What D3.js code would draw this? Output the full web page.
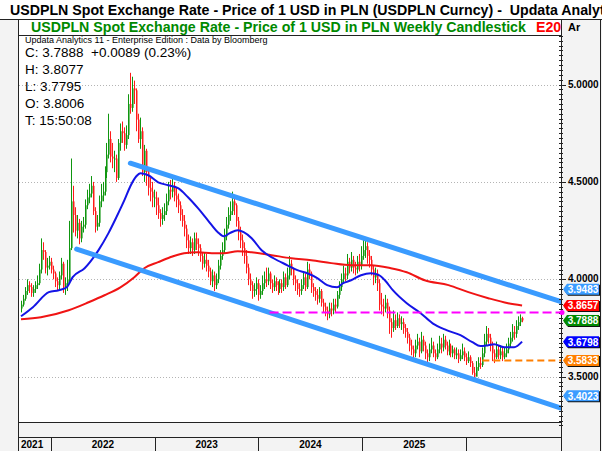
<!DOCTYPE html>
<html>
<head>
<meta charset="utf-8">
<script src="https://cdn.jsdelivr.net/npm/d3@7"></script>
<style>
  body { margin: 0; background: #fff; }
  svg { display: block; font-family: Arial, "Liberation Sans", sans-serif; }
</style>
</head>
<body>
<div id="chart"></div>
<script>
// weekly bars, first bar ending this friday
const firstWeek = '2021-09-17';

const opens = [
  3.85, 3.87, 3.90, 3.94, 3.97, 3.96, 3.93, 3.95, 3.97, 3.98,
  4.05, 4.15, 4.14, 4.06, 4.07, 4.09, 4.05, 4.03, 3.99, 3.97,
  4.02, 4.08, 3.96, 3.98, 4.00, 4.16, 4.40, 4.33, 4.25, 4.29,
  4.21, 4.27, 4.28, 4.38, 4.42, 4.44, 4.48, 4.35, 4.27, 4.29,
  4.40, 4.43, 4.45, 4.55, 4.64, 4.72, 4.63, 4.62, 4.62, 4.52,
  4.70, 4.76, 4.75, 4.69, 4.74, 4.90, 4.88, 4.98, 4.97, 4.82,
  4.72, 4.76, 4.55, 4.66, 4.55, 4.47, 4.45, 4.42, 4.42, 4.38,
  4.34, 4.31, 4.33, 4.35, 4.40, 4.46, 4.45, 4.48, 4.43, 4.41,
  4.38, 4.33, 4.30, 4.26, 4.20, 4.16, 4.19, 4.15, 4.21, 4.18,
  4.16, 4.12, 4.08, 4.10, 4.07, 4.04, 3.99, 4.02, 3.97, 4.00,
  4.07, 4.12, 4.15, 4.22, 4.28, 4.33, 4.35, 4.40, 4.38, 4.30,
  4.24, 4.20, 4.16, 4.12, 4.06, 4.00, 3.97, 3.94, 3.95, 3.98,
  3.92, 3.94, 3.98, 4.00, 3.99, 4.03, 3.98, 3.96, 3.99, 3.97,
  3.95, 3.98, 3.96, 4.01, 3.97, 4.02, 4.08, 4.05, 4.00, 3.98,
  3.95, 3.94, 3.97, 4.01, 3.96, 4.05, 4.03, 3.96, 3.94, 3.92,
  3.90, 3.94, 3.88, 3.86, 3.84, 3.82, 3.85, 3.84, 3.87, 3.86,
  3.92, 3.96, 4.00, 4.03, 4.02, 4.09, 4.06, 4.10, 4.06, 4.05,
  4.09, 4.07, 4.12, 4.15, 4.17, 4.12, 4.10, 4.05, 4.01, 4.03,
  3.98, 3.87, 3.86, 3.85, 3.88, 3.84, 3.78, 3.75, 3.79, 3.76,
  3.80, 3.77, 3.78, 3.75, 3.73, 3.70, 3.66, 3.64, 3.62, 3.66,
  3.68, 3.63, 3.69, 3.66, 3.62, 3.60, 3.64, 3.66, 3.62, 3.60,
  3.64, 3.67, 3.65, 3.69, 3.66, 3.63, 3.66, 3.62, 3.64, 3.61,
  3.62, 3.59, 3.61, 3.63, 3.60, 3.58, 3.60, 3.57, 3.52, 3.50,
  3.55, 3.57, 3.56, 3.62, 3.68, 3.72, 3.70, 3.66, 3.62, 3.60,
  3.64, 3.61, 3.63, 3.60, 3.62, 3.64, 3.67, 3.70, 3.73, 3.72,
  3.76, 3.78, 3.8006
];
const highs = [
  3.89, 3.92, 3.96, 4.00, 3.99, 3.98, 3.97, 3.99, 4.02, 4.08,
  4.21, 4.19, 4.15, 4.11, 4.12, 4.11, 4.07, 4.04, 4.01, 4.04,
  4.11, 4.09, 4.01, 4.10, 4.30, 4.62, 4.48, 4.37, 4.33, 4.31,
  4.30, 4.32, 4.41, 4.46, 4.49, 4.53, 4.50, 4.37, 4.33, 4.43,
  4.49, 4.50, 4.58, 4.70, 4.85, 4.76, 4.70, 4.66, 4.64, 4.72,
  4.80, 4.81, 4.78, 4.79, 4.95, 5.06, 5.04, 5.02, 4.98, 4.85,
  4.83, 4.78, 4.69, 4.67, 4.57, 4.52, 4.50, 4.46, 4.45, 4.42,
  4.36, 4.37, 4.39, 4.44, 4.50, 4.51, 4.52, 4.50, 4.47, 4.44,
  4.40, 4.36, 4.33, 4.28, 4.23, 4.22, 4.21, 4.24, 4.24, 4.21,
  4.18, 4.14, 4.14, 4.13, 4.10, 4.06, 4.05, 4.04, 4.03, 4.10,
  4.15, 4.19, 4.26, 4.32, 4.37, 4.40, 4.45, 4.43, 4.39, 4.32,
  4.27, 4.23, 4.19, 4.15, 4.08, 4.03, 3.99, 3.98, 4.01, 4.00,
  3.97, 4.02, 4.04, 4.06, 4.06, 4.04, 4.00, 4.02, 4.01, 3.99,
  4.00, 4.00, 4.04, 4.03, 4.06, 4.12, 4.10, 4.06, 4.02, 4.00,
  3.98, 4.00, 4.04, 4.03, 4.09, 4.08, 4.04, 3.98, 3.96, 3.95,
  3.96, 3.95, 3.90, 3.88, 3.86, 3.88, 3.88, 3.90, 3.90, 3.94,
  3.99, 4.03, 4.07, 4.06, 4.13, 4.11, 4.14, 4.12, 4.09, 4.12,
  4.13, 4.17, 4.22, 4.21, 4.19, 4.15, 4.12, 4.07, 4.06, 4.05,
  4.00, 3.93, 3.90, 3.92, 3.90, 3.86, 3.80, 3.84, 3.82, 3.83,
  3.82, 3.81, 3.80, 3.77, 3.75, 3.72, 3.69, 3.66, 3.69, 3.72,
  3.70, 3.73, 3.71, 3.68, 3.64, 3.67, 3.70, 3.68, 3.64, 3.67,
  3.71, 3.70, 3.72, 3.71, 3.68, 3.69, 3.67, 3.66, 3.65, 3.65,
  3.64, 3.64, 3.67, 3.65, 3.62, 3.63, 3.61, 3.58, 3.55, 3.58,
  3.60, 3.60, 3.65, 3.72, 3.76, 3.75, 3.72, 3.68, 3.64, 3.68,
  3.66, 3.66, 3.65, 3.65, 3.67, 3.70, 3.73, 3.77, 3.76, 3.79,
  3.81, 3.82, 3.8077
];
const lows = [
  3.83, 3.86, 3.89, 3.92, 3.93, 3.91, 3.91, 3.93, 3.95, 3.97,
  4.03, 4.10, 4.03, 4.02, 4.05, 4.03, 4.00, 3.96, 3.94, 3.95,
  4.00, 3.93, 3.92, 3.94, 3.98, 4.15, 4.24, 4.22, 4.21, 4.18,
  4.19, 4.24, 4.26, 4.36, 4.39, 4.42, 4.33, 4.24, 4.25, 4.27,
  4.37, 4.40, 4.43, 4.52, 4.62, 4.60, 4.57, 4.55, 4.50, 4.51,
  4.66, 4.70, 4.66, 4.67, 4.72, 4.85, 4.86, 4.90, 4.76, 4.70,
  4.67, 4.53, 4.50, 4.48, 4.43, 4.40, 4.37, 4.37, 4.33, 4.31,
  4.27, 4.28, 4.30, 4.33, 4.38, 4.41, 4.42, 4.40, 4.37, 4.34,
  4.30, 4.27, 4.22, 4.16, 4.13, 4.13, 4.12, 4.13, 4.15, 4.12,
  4.09, 4.05, 4.06, 4.04, 4.01, 3.97, 3.96, 3.94, 3.95, 3.98,
  4.05, 4.10, 4.13, 4.20, 4.26, 4.30, 4.33, 4.33, 4.27, 4.20,
  4.16, 4.12, 4.08, 4.03, 3.97, 3.94, 3.90, 3.91, 3.92, 3.89,
  3.90, 3.92, 3.95, 3.96, 3.97, 3.95, 3.93, 3.94, 3.94, 3.92,
  3.93, 3.93, 3.94, 3.95, 3.96, 4.00, 4.02, 3.97, 3.94, 3.92,
  3.91, 3.92, 3.95, 3.94, 3.95, 4.00, 3.93, 3.91, 3.89, 3.87,
  3.88, 3.86, 3.83, 3.81, 3.79, 3.80, 3.81, 3.82, 3.83, 3.85,
  3.90, 3.94, 3.98, 3.99, 4.00, 4.03, 4.04, 4.03, 4.02, 4.03,
  4.04, 4.05, 4.10, 4.11, 4.08, 4.06, 4.02, 3.97, 3.98, 3.94,
  3.84, 3.82, 3.81, 3.83, 3.80, 3.72, 3.70, 3.73, 3.74, 3.75,
  3.75, 3.74, 3.72, 3.70, 3.67, 3.63, 3.61, 3.59, 3.60, 3.64,
  3.60, 3.62, 3.63, 3.59, 3.57, 3.58, 3.62, 3.60, 3.58, 3.59,
  3.62, 3.62, 3.63, 3.64, 3.61, 3.61, 3.60, 3.60, 3.59, 3.59,
  3.57, 3.58, 3.59, 3.58, 3.56, 3.57, 3.55, 3.51, 3.49, 3.50,
  3.53, 3.54, 3.55, 3.60, 3.66, 3.67, 3.63, 3.58, 3.57, 3.59,
  3.59, 3.59, 3.58, 3.59, 3.60, 3.62, 3.65, 3.68, 3.69, 3.70,
  3.74, 3.76, 3.7795
];
const closes = [
  3.87, 3.90, 3.94, 3.97, 3.96, 3.93, 3.95, 3.97, 3.98, 4.05,
  4.15, 4.14, 4.06, 4.07, 4.09, 4.05, 4.03, 3.99, 3.97, 4.02,
  4.08, 3.96, 3.98, 4.00, 4.16, 4.40, 4.33, 4.25, 4.29, 4.21,
  4.27, 4.28, 4.38, 4.42, 4.44, 4.48, 4.35, 4.27, 4.29, 4.40,
  4.43, 4.45, 4.55, 4.64, 4.72, 4.63, 4.62, 4.62, 4.52, 4.70,
  4.76, 4.75, 4.69, 4.74, 4.90, 4.88, 4.98, 4.97, 4.82, 4.72,
  4.76, 4.55, 4.66, 4.55, 4.47, 4.45, 4.42, 4.42, 4.38, 4.34,
  4.31, 4.33, 4.35, 4.40, 4.46, 4.45, 4.48, 4.43, 4.41, 4.38,
  4.33, 4.30, 4.26, 4.20, 4.16, 4.19, 4.15, 4.21, 4.18, 4.16,
  4.12, 4.08, 4.10, 4.07, 4.04, 3.99, 4.02, 3.97, 4.00, 4.07,
  4.12, 4.15, 4.22, 4.28, 4.33, 4.35, 4.40, 4.38, 4.30, 4.24,
  4.20, 4.16, 4.12, 4.06, 4.00, 3.97, 3.94, 3.95, 3.98, 3.92,
  3.94, 3.98, 4.00, 3.99, 4.03, 3.98, 3.96, 3.99, 3.97, 3.95,
  3.98, 3.96, 4.01, 3.97, 4.02, 4.08, 4.05, 4.00, 3.98, 3.95,
  3.94, 3.97, 4.01, 3.96, 4.05, 4.03, 3.96, 3.94, 3.92, 3.90,
  3.94, 3.88, 3.86, 3.84, 3.82, 3.85, 3.84, 3.87, 3.86, 3.92,
  3.96, 4.00, 4.03, 4.02, 4.09, 4.06, 4.10, 4.06, 4.05, 4.09,
  4.07, 4.12, 4.15, 4.17, 4.12, 4.10, 4.05, 4.01, 4.03, 3.98,
  3.87, 3.86, 3.85, 3.88, 3.84, 3.78, 3.75, 3.79, 3.76, 3.80,
  3.77, 3.78, 3.75, 3.73, 3.70, 3.66, 3.64, 3.62, 3.66, 3.68,
  3.63, 3.69, 3.66, 3.62, 3.60, 3.64, 3.66, 3.62, 3.60, 3.64,
  3.67, 3.65, 3.69, 3.66, 3.63, 3.66, 3.62, 3.64, 3.61, 3.62,
  3.59, 3.61, 3.63, 3.60, 3.58, 3.60, 3.57, 3.52, 3.50, 3.55,
  3.57, 3.56, 3.62, 3.68, 3.72, 3.70, 3.66, 3.62, 3.60, 3.64,
  3.61, 3.63, 3.60, 3.62, 3.64, 3.67, 3.70, 3.73, 3.72, 3.76,
  3.78, 3.8006, 3.7888
];

// moving averages (week index, value)
const blueMaWeeks = [0, 6, 14, 19, 23, 26, 32, 39, 44, 48, 52, 55, 58, 60, 64, 69, 74, 79, 84, 89,
  94, 99, 102, 105, 109, 112, 116, 121, 127, 134, 139, 144, 149, 154, 159, 162, 166, 171, 176, 180,
  183, 187, 194, 201, 207, 214, 221, 227, 231, 235, 238, 243, 248, 252];
const blueMaValues = [3.810, 3.857, 3.934, 3.944, 3.959, 4.011, 4.057, 4.150, 4.237, 4.319, 4.406, 4.478,
  4.529, 4.545, 4.534, 4.498, 4.483, 4.468, 4.421, 4.365, 4.303, 4.242, 4.221, 4.237, 4.252, 4.242,
  4.211, 4.149, 4.108, 4.072, 4.047, 4.031, 4.006, 3.970, 3.959, 3.980, 3.995, 4.021, 4.031, 4.021,
  3.995, 3.944, 3.877, 3.826, 3.774, 3.739, 3.713, 3.677, 3.657, 3.662, 3.667, 3.651, 3.651, 3.6798];

const redMaWeeks = [0, 10, 24, 34, 42, 50, 57, 62, 69, 75, 82, 89, 96, 102, 109, 116, 126, 136, 146,
  156, 166, 176, 186, 194, 203, 215, 225, 235, 245, 252];
const redMaValues = [3.795, 3.805, 3.841, 3.882, 3.918, 3.959, 4.011, 4.057, 4.088, 4.113, 4.134, 4.139,
  4.134, 4.134, 4.144, 4.139, 4.124, 4.108, 4.098, 4.083, 4.072, 4.072, 4.057, 4.036, 3.995, 3.970,
  3.934, 3.903, 3.877, 3.8657];

// trend channel and horizontal levels
const upperChannelDates = ['2022-10-07', '2026-12-01'];
const upperChannelValues = [4.596, 3.885];
const lowerChannelDates = ['2022-04-01', '2026-12-01'];
const lowerChannelValues = [4.155, 3.339];
const magentaLevelDates = ['2024-02-09', '2026-12-01'];
const magentaLevel = 3.83;
const orangeLevelDates = ['2026-02-27', '2026-12-01'];
const orangeLevel = 3.5833;

const priceTicks = [3.5, 4.0, 4.5, 5.0];
const yearLabels = ['2021', '2022', '2023', '2024', '2025'];

const tagValues = [3.9483, 3.8657, 3.7888, 3.6798, 3.5833, 3.4023];
const tagColors = ['#3a9bff', '#ff0000', '#008a00', '#0000ff', '#ff7f00', '#3a9bff'];

const infoLines = ['C: 3.7888  +0.0089 (0.23%)', 'H: 3.8077', 'L: 3.7795', 'O: 3.8006', 'T: 15:50:08'];


class CandleChart {

    constructor(_config) {
        this.config = {
            parentElement: _config.parentElement,
            width: 602,
            height: 451,
            plot: { left: 19, right: 561, top: 35, bottom: 422 }
        };
        this.initVis();
    }

    initVis() {
        let vis = this;
        const p = vis.config.plot;

        vis.svg = d3.select(vis.config.parentElement).append('svg')
            .attr('width', vis.config.width)
            .attr('height', vis.config.height);

        vis.parseDate = d3.utcParse('%Y-%m-%d');
        vis.weekDate = i => d3.utcDay.offset(vis.parseDate(firstWeek), 7 * i);

        vis.x = d3.scaleUtc()
            .domain([vis.parseDate('2021-09-10'), vis.parseDate('2026-12-01')])
            .range([p.left, p.right]);

        vis.y = d3.scaleLinear()
            .domain([3.5, 5.0])
            .range([376.7, 84.5]);

        // panel backgrounds
        vis.svg.append('rect').attr('width', 602).attr('height', 451).attr('fill', '#f3f3f3');
        vis.svg.append('rect').attr('width', 602).attr('height', 19).attr('fill', '#fff');
        vis.svg.append('rect')
            .attr('x', p.left).attr('y', 19)
            .attr('width', p.right - p.left).attr('height', p.bottom - 19)
            .attr('fill', '#fff');

        vis.svg.append('defs').append('clipPath').attr('id', 'plot-clip')
            .append('rect')
            .attr('x', p.left).attr('y', p.top)
            .attr('width', p.right - p.left).attr('height', p.bottom - p.top);

        vis.grid = vis.svg.append('g').attr('class', 'grid');
        vis.chart = vis.svg.append('g').attr('clip-path', 'url(#plot-clip)');

        vis.updateVis();
    }

    updateVis() {
        let vis = this;
        const p = vis.config.plot;

        // dotted horizontal grid
        vis.grid.selectAll('line')
            .data(priceTicks)
            .join('line')
            .attr('x1', p.left).attr('x2', p.right)
            .attr('y1', d => Math.round(vis.y(d)) + 0.5)
            .attr('y2', d => Math.round(vis.y(d)) + 0.5)
            .attr('stroke', '#b4b4b4')
            .attr('stroke-dasharray', '1,2');

        // candles
        const bars = closes.map((c, i) => ({
            date: vis.weekDate(i), open: opens[i], high: highs[i], low: lows[i], close: c
        }));

        const candle = vis.chart.selectAll('.candle')
            .data(bars)
            .join('g')
            .attr('class', 'candle');

        candle.append('line')
            .attr('x1', d => Math.round(vis.x(d.date)) + 0.5)
            .attr('x2', d => Math.round(vis.x(d.date)) + 0.5)
            .attr('y1', d => vis.y(d.high))
            .attr('y2', d => vis.y(d.low))
            .attr('stroke', d => d.close >= d.open ? '#0f960f' : '#ff1a1a')
            .attr('stroke-width', 1);

        candle.append('rect')
            .attr('x', d => Math.round(vis.x(d.date)) + 1)
            .attr('width', 1)
            .attr('y', d => vis.y(Math.max(d.open, d.close)))
            .attr('height', d => Math.max(1, Math.abs(vis.y(d.open) - vis.y(d.close))))
            .attr('fill', d => d.close >= d.open ? '#78c478' : '#ff8f8f');

        // moving averages
        const line = d3.line()
            .x(d => vis.x(d[0]))
            .y(d => vis.y(d[1]))
            .curve(d3.curveMonotoneX);

        vis.chart.append('path')
            .datum(redMaWeeks.map((w, i) => [vis.weekDate(w), redMaValues[i]]))
            .attr('d', line)
            .attr('fill', 'none')
            .attr('stroke', '#f01414')
            .attr('stroke-width', 2);

        vis.chart.append('path')
            .datum(blueMaWeeks.map((w, i) => [vis.weekDate(w), blueMaValues[i]]))
            .attr('d', line)
            .attr('fill', 'none')
            .attr('stroke', '#1414e6')
            .attr('stroke-width', 2);

        // channel
        const straight = d3.line().x(d => vis.x(d[0])).y(d => vis.y(d[1]));
        [[upperChannelDates, upperChannelValues], [lowerChannelDates, lowerChannelValues]].forEach(([ds, vs]) => {
            vis.chart.append('path')
                .datum(ds.map((d, i) => [vis.parseDate(d), vs[i]]))
                .attr('d', straight)
                .attr('stroke', '#3a9bff')
                .attr('stroke-width', 5)
                .attr('stroke-linecap', 'round');
        });

        // dashed levels
        vis.chart.append('path')
            .datum(magentaLevelDates.map(d => [vis.parseDate(d), magentaLevel]))
            .attr('d', straight)
            .attr('stroke', '#ff00ff')
            .attr('stroke-width', 2)
            .attr('stroke-dasharray', '9,4');

        vis.chart.append('path')
            .datum(orangeLevelDates.map(d => [vis.parseDate(d), orangeLevel]))
            .attr('d', straight)
            .attr('stroke', '#ff7f00')
            .attr('stroke-width', 2)
            .attr('stroke-dasharray', '7,4');

        vis.renderFrame();
    }

    renderFrame() {
        let vis = this;
        const p = vis.config.plot;
        const frame = vis.svg.append('g');

        // frame lines
        const hLines = [[0, 602, 19.5], [p.left, p.right, p.top + 0.5], [p.left, p.right, p.bottom + 0.5], [p.left, p.right, 437.5]];
        frame.selectAll('.hline').data(hLines).join('line')
            .attr('x1', d => d[0]).attr('x2', d => d[1])
            .attr('y1', d => d[2]).attr('y2', d => d[2])
            .attr('stroke', '#222');
        const vLines = [[p.left - 0.5, 19, 451], [p.right + 0.5, 19, 451], [600.5, 19, 451]];
        frame.selectAll('.vline').data(vLines).join('line')
            .attr('x1', d => d[0]).attr('x2', d => d[0])
            .attr('y1', d => d[1]).attr('y2', d => d[2])
            .attr('stroke', '#222');

        // year axis
        const years = d3.utcYear.range(vis.parseDate('2022-01-01'), vis.parseDate('2026-12-01'));
        frame.selectAll('.year-sep').data(years).join('line')
            .attr('x1', d => Math.round(vis.x(d)) + 0.5).attr('x2', d => Math.round(vis.x(d)) + 0.5)
            .attr('y1', 437).attr('y2', 451)
            .attr('stroke', '#222');

        const bounds = [p.left].concat(years.map(d => vis.x(d)));
        frame.selectAll('.year-label').data(yearLabels).join('text')
            .attr('x', (d, i) => i === 0 ? p.left + 2 : (bounds[i] + bounds[i + 1]) / 2)
            .attr('y', 448)
            .attr('text-anchor', (d, i) => i === 0 ? 'start' : 'middle')
            .attr('font-size', 10).attr('font-weight', 'bold')
            .text(d => d);

        // right price axis
        const minor = d3.range(3.25, 5.26, 0.025);
        frame.selectAll('.minor').data(minor).join('line')
            .attr('x1', p.right - 2).attr('x2', p.right + 2)
            .attr('y1', d => Math.round(vis.y(d)) + 0.5).attr('y2', d => Math.round(vis.y(d)) + 0.5)
            .attr('stroke', '#222');
        frame.selectAll('.major').data(priceTicks).join('line')
            .attr('x1', p.right - 2).attr('x2', p.right + 5)
            .attr('y1', d => Math.round(vis.y(d)) + 0.5).attr('y2', d => Math.round(vis.y(d)) + 0.5)
            .attr('stroke', '#222');
        frame.selectAll('.price-label').data(priceTicks).join('text')
            .attr('x', 568).attr('y', d => vis.y(d) + 3)
            .attr('font-size', 10).attr('font-weight', 'bold')
            .text(d => d3.format('.4f')(d));

        // value tags
        const tag = frame.selectAll('.tag').data(tagValues).join('g')
            .attr('transform', d => `translate(0,${vis.y(d)})`);
        const tagPath = 'M563,0 L567,-5.5 L599,-5.5 L599,5.5 L567,5.5 Z';
        tag.append('path').attr('d', tagPath).attr('transform', 'translate(1,1)').attr('fill', '#111');
        tag.append('path').attr('d', tagPath).attr('fill', (d, i) => tagColors[i]);
        tag.append('text')
            .attr('x', 583).attr('y', 4)
            .attr('text-anchor', 'middle')
            .attr('font-size', 10).attr('font-weight', 'bold')
            .attr('fill', '#fff')
            .text(d => d3.format('.4f')(d));

        frame.append('circle')
            .attr('cx', p.right + 1).attr('cy', vis.y(magentaLevel))
            .attr('r', 2.5).attr('fill', '#ff00ff');

        // titles and info text
        frame.append('text')
            .attr('x', 10).attr('y', 15)
            .attr('font-size', 14.2).attr('font-weight', 'bold')
            .style('white-space', 'pre')
            .text('USDPLN Spot Exchange Rate - Price of 1 USD in PLN (USDPLN Curncy) -  Updata Analyt');

        frame.append('text')
            .attr('x', 31).attr('y', 32)
            .attr('font-size', 14.2).attr('font-weight', 'bold')
            .attr('fill', '#008a00')
            .text('USDPLN Spot Exchange Rate - Price of 1 USD in PLN Weekly Candlestick');
        frame.append('text')
            .attr('x', 536).attr('y', 32)
            .attr('font-size', 14.2).attr('font-weight', 'bold')
            .attr('fill', '#ff0000')
            .text('E20');

        frame.append('text')
            .attr('x', 568).attr('y', 31)
            .attr('font-size', 11).attr('font-weight', 'bold')
            .text('Ar');

        frame.append('text')
            .attr('x', 25).attr('y', 43)
            .attr('font-size', 9)
            .text('Updata Analytics 11 - Enterprise Edition : Data by Bloomberg');

        frame.selectAll('.info').data(infoLines).join('text')
            .attr('x', 25).attr('y', (d, i) => 57 + i * 17)
            .attr('font-size', 13.5)
            .style('white-space', 'pre')
            .text(d => d);

        console.log('Rendered chart');
    }
}

new CandleChart({ parentElement: '#chart' });
</script>
</body>
</html>
